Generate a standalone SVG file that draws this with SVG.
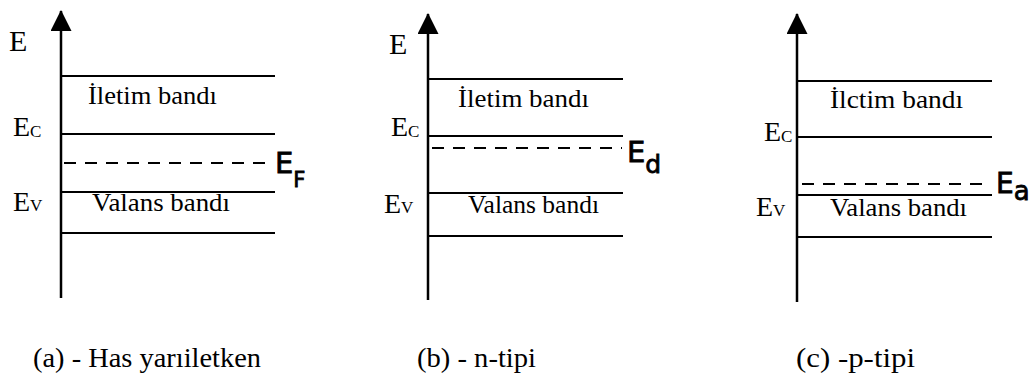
<svg xmlns="http://www.w3.org/2000/svg" width="1031" height="383" viewBox="0 0 1031 383">
<style>
.bg{fill:#ffffff}
.axis{stroke:#000;stroke-width:2.5;fill:none}
.band{stroke:#000;stroke-width:2;fill:none}
.dash{stroke:#000;stroke-width:2;fill:none;stroke-dasharray:12 9}
.serif{font-family:"Liberation Serif","Times New Roman",serif;fill:#000}
.hand{font-family:"DejaVu Sans","Liberation Sans",sans-serif;fill:#000;stroke:#000;stroke-width:0.8}
</style>
<defs>
<marker id="arrow" markerUnits="userSpaceOnUse" markerWidth="22" markerHeight="22" refX="20" refY="10.5" orient="auto">
<path d="M0,0 L21,10.5 L0,21 z" fill="#000"/>
</marker>
</defs>
<rect class="bg" x="0" y="0" width="1031" height="383"/>
<g id="connectors">
<line class="axis" x1="61" y1="298" x2="61" y2="11" marker-end="url(#arrow)"/>
<line class="axis" x1="428" y1="300" x2="428" y2="14" marker-end="url(#arrow)"/>
<line class="axis" x1="797" y1="302" x2="797" y2="14" marker-end="url(#arrow)"/>
</g>
<g id="panel-a">
<text class="serif" x="9" y="51" font-size="30">E</text>
<line class="band" x1="61" y1="76" x2="275" y2="76"/>
<line class="band" x1="61" y1="134" x2="275" y2="134"/>
<line class="dash" x1="64" y1="163" x2="272" y2="163"/>
<line class="band" x1="61" y1="192" x2="275" y2="192"/>
<line class="band" x1="61" y1="233" x2="275" y2="233"/>
<text class="serif" x="88" y="104" font-size="25" textLength="129" lengthAdjust="spacingAndGlyphs">İletim bandı</text>
<text class="serif" x="92" y="211" font-size="26" textLength="138" lengthAdjust="spacingAndGlyphs">Valans bandı</text>
<text class="serif" x="13" y="136" font-size="28">E<tspan font-size="17" dy="1">C</tspan></text>
<text class="serif" x="13" y="211" font-size="28">E<tspan font-size="17" dy="0">V</tspan></text>
<text class="hand" x="275" y="173" font-size="29">E<tspan font-size="21" dy="14">F</tspan></text>
<text class="serif" x="33" y="367" font-size="28" textLength="228" lengthAdjust="spacingAndGlyphs">(a) - Has yarıiletken</text>
</g>
<g id="panel-b">
<text class="serif" x="389" y="54" font-size="30">E</text>
<line class="band" x1="428" y1="79" x2="623" y2="79"/>
<line class="band" x1="428" y1="136" x2="623" y2="136"/>
<line class="dash" x1="432" y1="148" x2="622" y2="148"/>
<line class="band" x1="428" y1="193" x2="623" y2="193"/>
<line class="band" x1="428" y1="236" x2="623" y2="236"/>
<text class="serif" x="458" y="107" font-size="25" textLength="131" lengthAdjust="spacingAndGlyphs">İletim bandı</text>
<text class="serif" x="468" y="213" font-size="26" textLength="131" lengthAdjust="spacingAndGlyphs">Valans bandı</text>
<text class="serif" x="391" y="136" font-size="28">E<tspan font-size="17" dy="1">C</tspan></text>
<text class="serif" x="384" y="213" font-size="28">E<tspan font-size="17" dy="0">V</tspan></text>
<text class="hand" x="627" y="162" font-size="29">E<tspan font-size="25" dy="11">d</tspan></text>
<text class="serif" x="417" y="367" font-size="28" textLength="119" lengthAdjust="spacingAndGlyphs">(b) - n-tipi</text>
</g>
<g id="panel-c">
<line class="band" x1="797" y1="81" x2="992" y2="81"/>
<line class="band" x1="797" y1="137" x2="992" y2="137"/>
<line class="dash" x1="802" y1="184" x2="990" y2="184"/>
<line class="band" x1="797" y1="195" x2="992" y2="195"/>
<line class="band" x1="797" y1="237" x2="992" y2="237"/>
<text class="serif" x="830" y="108" font-size="25" textLength="133" lengthAdjust="spacingAndGlyphs">İlctim bandı</text>
<text class="serif" x="830" y="216" font-size="26" textLength="137" lengthAdjust="spacingAndGlyphs">Valans bandı</text>
<text class="serif" x="764" y="141" font-size="28">E<tspan font-size="17" dy="1">C</tspan></text>
<text class="serif" x="756" y="216" font-size="28">E<tspan font-size="17" dy="0">V</tspan></text>
<text class="hand" x="996" y="193" font-size="28">E<tspan font-size="26" dy="7">a</tspan></text>
<text class="serif" x="796" y="367" font-size="28" textLength="119" lengthAdjust="spacingAndGlyphs">(c) -p-tipi</text>
</g>
</svg>
